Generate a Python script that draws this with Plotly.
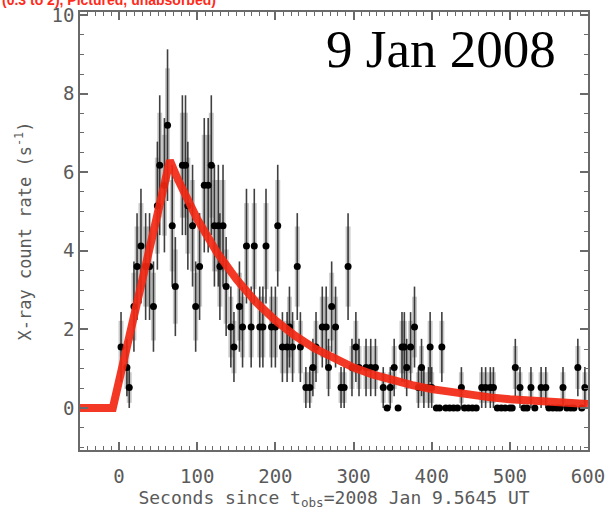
import plotly.graph_objects as go

# ---- data ----
t_obs = [2.5, 10, 13, 19, 23, 28, 34, 39, 44, 49, 52, 58, 62, 68, 72, 81, 85, 88, 94, 98,
         103, 109, 114, 118, 122, 127, 129, 133, 137, 143, 147, 154, 158, 163, 169, 173, 180, 184, 188, 195,
         200, 203, 209, 215, 218, 222, 228, 232, 239, 244, 248, 252, 260, 265, 268, 272, 277, 284, 288, 293,
         298, 303, 307, 316, 322, 328, 338, 343, 347, 352, 357, 362, 365, 368, 373, 378, 383, 387, 390, 396,
         398, 400, 406, 410, 413, 418, 423, 428, 433, 438, 442, 447, 452, 457, 464, 469, 475, 479, 484, 489,
         494, 500, 503, 507, 513, 518, 522, 527, 532, 540, 546, 550, 555, 560, 564, 568, 573, 578, 582, 587,
         592, 596]
rate = [1.55, 1.03, 0.52, 2.58, 3.6, 4.12, 3.6, 3.6, 2.58, 5.15, 6.18, 5.67, 7.2, 4.64, 3.09, 6.18, 6.18, 5.15, 4.64, 2.58,
        3.6, 5.67, 5.67, 6.18, 4.64, 4.64, 3.6, 4.64, 3.09, 2.06, 1.55, 2.58, 2.06, 4.12, 2.06, 4.12, 2.06, 2.06, 4.12, 2.06,
        2.06, 4.64, 1.55, 1.55, 2.06, 1.55, 3.6, 1.55, 0.52, 0.52, 1.03, 1.55, 2.06, 2.06, 1.03, 2.58, 2.06, 0.52, 0.52, 3.6,
        1.03, 1.55, 1.03, 1.03, 1.03, 1.03, 0.52, 0, 0.52, 1.03, 0, 1.55, 1.55, 1.03, 1.55, 2.06, 0.52, 1.03, 0.52, 0.52,
        1.55, 0.52, 0, 0, 1.55, 0, 0, 0, 0, 0.52, 0, 0, 0, 0, 0.52, 0.52, 0.52, 0.52, 0, 0,
        0, 0, 0, 1.03, 0.52, 0, 0, 0.52, 0, 0.52, 0.52, 0, 0, 0, 0, 0.52, 0, 0, 0, 1.03,
        0, 0.52]
rate_err = [0.89, 0.73, 0.52, 1.15, 1.36, 1.46, 1.36, 1.36, 1.15, 1.63, 1.78, 1.71, 1.93, 1.55, 1.26, 1.78, 1.78, 1.63, 1.55, 1.15,
            1.36, 1.71, 1.71, 1.78, 1.55, 1.55, 1.36, 1.55, 1.26, 1.03, 0.89, 1.15, 1.03, 1.46, 1.03, 1.46, 1.03, 1.03, 1.46, 1.03,
            1.03, 1.55, 0.89, 0.89, 1.03, 0.89, 1.36, 0.89, 0.52, 0.52, 0.73, 0.89, 1.03, 1.03, 0.73, 1.15, 1.03, 0.52, 0.52, 1.36,
            0.73, 0.89, 0.73, 0.73, 0.73, 0.73, 0.52, 0, 0.52, 0.73, 0, 0.89, 0.89, 0.73, 0.89, 1.03, 0.52, 0.73, 0.52, 0.52,
            0.89, 0.52, 0, 0, 0.89, 0, 0, 0, 0, 0.52, 0, 0, 0, 0, 0.52, 0.52, 0.52, 0.52, 0, 0,
            0, 0, 0, 0.73, 0.52, 0, 0, 0.52, 0, 0.52, 0.52, 0, 0, 0, 0, 0.52, 0, 0, 0, 0.73,
            0, 0.52]

t_model = [-50, -8, 65, 75, 100, 125, 150, 175, 200, 225, 250, 275, 300, 325, 350, 375,
           400, 425, 450, 475, 500, 525, 550, 575, 600]
rate_model = [0, 0, 6.3, 5.83, 4.81, 3.97, 3.28, 2.70, 2.23, 1.84, 1.52, 1.25, 1.03, 0.85, 0.70, 0.58,
              0.48, 0.40, 0.33, 0.27, 0.22, 0.18, 0.15, 0.125, 0.10]

x_ticks = [0, 100, 200, 300, 400, 500, 600]
y_ticks = [0, 2, 4, 6, 8, 10]

fig = go.Figure()

# light grey error boxes
fig.add_trace(go.Scatter(
    x=t_obs, y=rate, mode="markers", marker=dict(size=1, color="rgba(0,0,0,0)"),
    error_y=dict(type="data", array=[0.75 * e for e in rate_err], width=0, thickness=5,
                 color="rgba(150,150,150,0.5)"),
    showlegend=False, hoverinfo="skip"))

# black points with error bars
fig.add_trace(go.Scatter(
    x=t_obs, y=rate, mode="markers", marker=dict(size=7, color="black"),
    error_y=dict(type="data", array=rate_err, width=0, thickness=1.6, color="rgba(30,30,30,0.85)"),
    showlegend=False))

# red model
fig.add_trace(go.Scatter(
    x=t_model, y=rate_model, mode="lines",
    line=dict(color="rgba(242,40,18,0.92)", width=8),
    showlegend=False))

axis_col = "#6a6a6a"
tick_font = dict(family="DejaVu Sans Mono", size=19, color="#5a5a5a")

fig.update_xaxes(
    range=[-50, 600], tickvals=x_ticks, ticktext=[str(v) for v in x_ticks],
    ticks="inside", ticklen=8, tickwidth=1.5, tickcolor=axis_col,
    minor=dict(dtick=10, ticks="inside", ticklen=4, tickcolor=axis_col, tickwidth=1),
    showline=True, linecolor=axis_col, linewidth=1.5, mirror="ticks",
    showgrid=False, zeroline=False, tickfont=tick_font, automargin=False,
    ticklabelstandoff=8, ticklabeloverflow="allow",
    title=dict(text="Seconds since t<sub>obs</sub>=2008 Jan 9.5645 UT",
               font=dict(family="DejaVu Sans Mono", size=18, color="#5a5a5a"), standoff=2))

fig.update_yaxes(
    range=[-1.07, 10.08], tickvals=y_ticks, ticktext=[str(v) for v in y_ticks],
    ticks="inside", ticklen=8, tickwidth=1.5, tickcolor=axis_col,
    minor=dict(dtick=0.5, ticks="inside", ticklen=4, tickcolor=axis_col, tickwidth=1),
    showline=True, linecolor=axis_col, linewidth=1.5, mirror="ticks",
    showgrid=False, zeroline=False, tickfont=tick_font, automargin=False,
    ticklabeloverflow="allow",
    title=dict(text="X-ray count rate (s<sup>-1</sup>)",
               font=dict(family="DejaVu Sans Mono", size=17, color="#5a5a5a"), standoff=16))

fig.add_annotation(text="9 Jan 2008", xref="paper", yref="paper", x=0.941, y=0.915,
                   xanchor="right", yanchor="middle", showarrow=False,
                   font=dict(family="Liberation Serif", size=53, color="black"))

fig.add_annotation(text="(0.3 to 2), Pictured, unabsorbed)", xref="paper", yref="paper",
                   x=-0.1575, y=1.0274, xanchor="left", yanchor="middle", showarrow=False,
                   font=dict(family="Liberation Sans", size=14, color="#ff2a1a", weight="bold"))

fig.update_layout(width=611, height=511, margin=dict(l=80, r=23, t=12, b=61),
                  plot_bgcolor="white", paper_bgcolor="white")

fig.write_html("out.html", config={"displayModeBar": False},
               post_script="document.body.style.margin='0';")
